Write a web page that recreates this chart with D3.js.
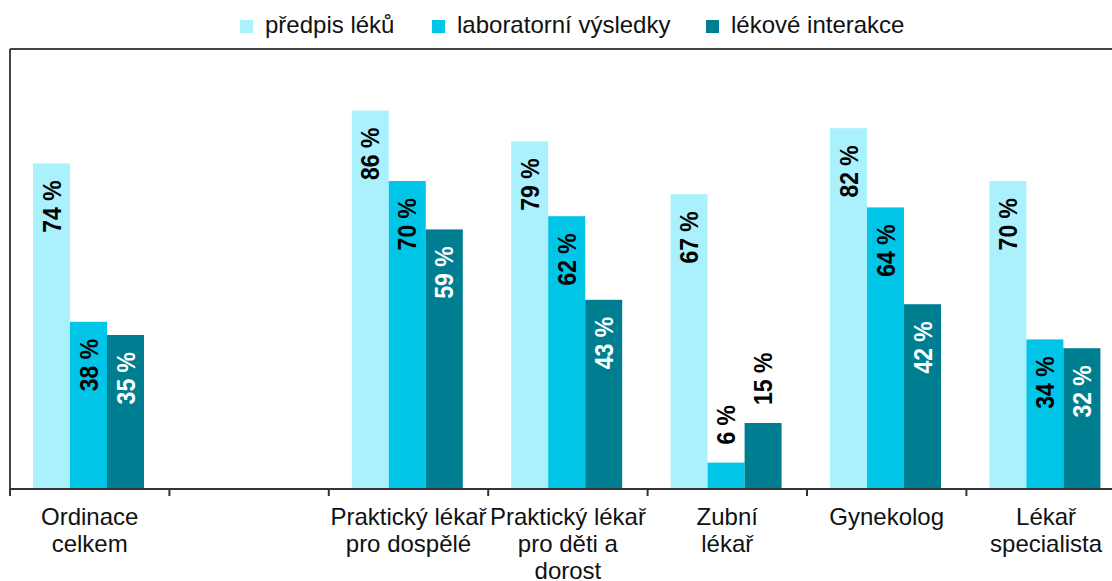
<!DOCTYPE html>
<html>
<head>
<meta charset="utf-8">
<script src="https://cdn.jsdelivr.net/npm/d3@7"></script>
<style>
  body { margin: 0; background: #fff; }
  svg { display: block; font-family: "Liberation Sans", Arial, sans-serif; }
</style>
</head>
<body>
<svg id="chart" width="1112" height="581"></svg>
<script>
// categories (one empty slot in the original chart)
const categories = ["Ordinace celkem", "", "Praktický lékař pro dospělé", "Praktický lékař pro děti a dorost", "Zubní lékař", "Gynekolog", "Lékař specialista"];
const categoryLines = [["Ordinace", "celkem"], [], ["Praktický lékař", "pro dospělé"], ["Praktický lékař", "pro děti a", "dorost"], ["Zubní", "lékař"], ["Gynekolog"], ["Lékař", "specialista"]];
const seriesNames = ["předpis léků", "laboratorní výsledky", "lékové interakce"];
const predpis = [74, null, 86, 79, 67, 82, 70];
const laborator = [38, null, 70, 62, 6, 64, 34];
const interakce = [35, null, 59, 43, 15, 42, 32];
const yTicks = [0, 100];

const colors = ["#aaf1fd", "#00c5e6", "#007e91"];
const labelColors = ["#000", "#000", "#fff"];

const svg = d3.select("#chart");
const margin = { top: 49, left: 10, bottom: 92 };
const height = 581 - margin.top - margin.bottom;
const step = 159.4;

const x0 = d3.scaleBand()
    .domain(categories.map((c, i) => i))
    .range([margin.left, margin.left + step * categories.length])
    .padding(0);

const x1 = d3.scaleBand()
    .domain(seriesNames)
    .range([0, x0.bandwidth()])
    .paddingInner(0)
    .paddingOuter(0.654)
    .align(0.475);

const y = d3.scaleLinear()
    .domain(d3.extent(yTicks))
    .range([margin.top + height, margin.top]);

const rows = [predpis, laborator, interakce];
const data = [];
categories.forEach((c, i) => {
    rows.forEach((r, s) => {
        if (r[i] != null) data.push({ cat: i, s: s, v: r[i] });
    });
});

// bars
svg.append("g")
    .selectAll("rect")
    .data(data)
    .join("rect")
    .attr("x", d => x0(d.cat) + x1(seriesNames[d.s]))
    .attr("y", d => y(d.v))
    .attr("width", x1.bandwidth())
    .attr("height", d => y(0) - y(d.v))
    .attr("fill", d => colors[d.s]);

// value labels, rotated
svg.append("g")
    .selectAll("text")
    .data(data)
    .join("text")
    .attr("transform", d => {
        const cx = x0(d.cat) + x1(seriesNames[d.s]) + x1.bandwidth() / 2;
        const outside = d.v < 20;
        const yy = outside ? y(d.v) - 18 : y(d.v) + 17;
        return `translate(${cx},${yy}) rotate(-90) scale(1,1.12)`;
    })
    .attr("text-anchor", d => d.v < 20 ? "start" : "end")
    .attr("dy", "0.35em")
    .attr("font-size", 23)
    .attr("font-weight", "bold")
    .attr("fill", d => d.v < 20 ? "#000" : labelColors[d.s])
    .text(d => d.v + "\u00a0%");

// frame: top and left border
svg.append("line")
    .attr("x1", margin.left).attr("x2", 1112)
    .attr("y1", y(100)).attr("y2", y(100))
    .attr("stroke", "#444").attr("stroke-width", 2);
svg.append("line")
    .attr("x1", margin.left).attr("x2", margin.left)
    .attr("y1", y(100)).attr("y2", y(0))
    .attr("stroke", "#444").attr("stroke-width", 2);

// x axis
const xAxis = svg.append("g")
    .attr("transform", `translate(0,${y(0)})`);
xAxis.append("line")
    .attr("x1", margin.left).attr("x2", 1112)
    .attr("stroke", "#333").attr("stroke-width", 2);
xAxis.selectAll(".tick")
    .data(d3.range(categories.length + 1))
    .join("line")
    .attr("class", "tick")
    .attr("x1", i => margin.left + i * x0.step())
    .attr("x2", i => margin.left + i * x0.step())
    .attr("y1", 0).attr("y2", 7)
    .attr("stroke", "#333").attr("stroke-width", 2);

const catLabels = xAxis.selectAll(".cat")
    .data(categories.map((c, i) => i))
    .join("text")
    .attr("class", "cat")
    .attr("text-anchor", "middle")
    .attr("font-size", 24)
    .attr("fill", "#111");
catLabels.selectAll("tspan")
    .data(i => categoryLines[i].map(t => ({ i, t })))
    .join("tspan")
    .attr("x", d => x0(d.i) + x0.bandwidth() / 2)
    .attr("y", (d, k) => 36 + k * 27)
    .text(d => d.t);

// legend
const legendX = [240, 432, 706];
const legend = svg.append("g");
seriesNames.forEach((name, i) => {
    legend.append("rect")
        .attr("x", legendX[i]).attr("y", 20)
        .attr("width", 13).attr("height", 13)
        .attr("fill", colors[i]);
    legend.append("text")
        .attr("x", legendX[i] + 25).attr("y", 33)
        .attr("font-size", 24)
        .attr("fill", "#111")
        .text(name);
});
</script>
</body>
</html>
